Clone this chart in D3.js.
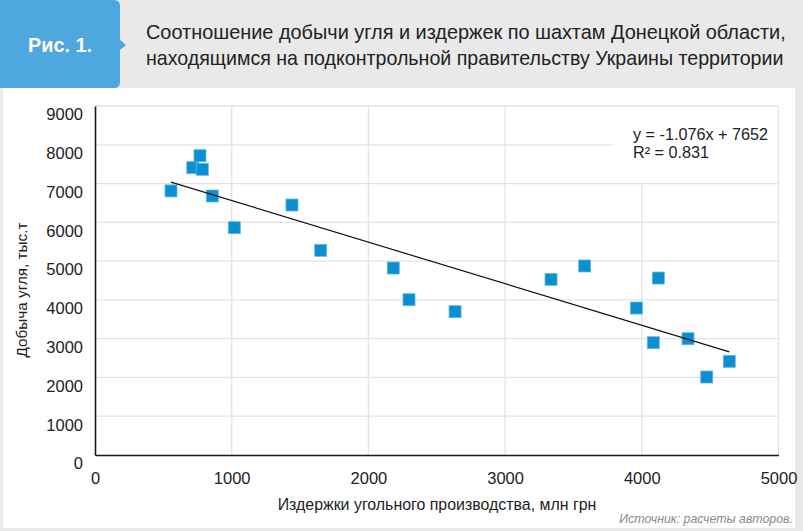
<!DOCTYPE html>
<html><head><meta charset="utf-8">
<script src="https://cdn.jsdelivr.net/npm/d3@7"></script>
<style>
html,body{margin:0;padding:0;background:#e9e9ea;}
svg{display:block;}
</style></head>
<body>
<svg id="chart" width="803" height="531"></svg>
<script>
// ---- data ----
const figureLabel = "Рис. 1.";
const titleLines = [
  "Соотношение добычи угля и издержек по шахтам Донецкой области,",
  "находящимся на подконтрольной правительству Украины территории"
];
const xTitle = "Издержки угольного производства, млн грн";
const yTitle = "Добыча угля, тыс.т";
const sourceText = "Источник: расчеты авторов.";
const equationLines = ["y = -1.076x + 7652", "R² = 0.831"];
const xTicks = [0, 1000, 2000, 3000, 4000, 5000];
const yTicks = [0, 1000, 2000, 3000, 4000, 5000, 6000, 7000, 8000, 9000];
const costs = [556, 715, 768, 785, 858, 1019, 1441, 1651, 2182, 2297, 2634, 3336, 3582, 3960, 4121, 4084, 4338, 4475, 4640];
const output = [6810, 7409, 7718, 7367, 6679, 5862, 6447, 5278, 4822, 4005, 3696, 4530, 4874, 3790, 4564, 2896, 2999, 2011, 2416];

// ---- helpers ----
function fitWidth(sel, target){
  const fs = +sel.attr("font-size");
  const w = sel.node().getComputedTextLength();
  if (w > 0) sel.attr("font-size", (fs*target/w).toFixed(2));
  return sel;
}

// ---- layout ----
const svg = d3.select("#chart");
const W = 803, H = 531;

svg.append("rect").attr("x",0).attr("y",0).attr("width",W).attr("height",H).attr("fill","#e9e9ea");
svg.append("rect").attr("x",3).attr("y",88).attr("width",792).attr("height",440).attr("fill","#ffffff");

// header tab
svg.append("path")
  .attr("d","M0,0 H114 Q120,0 120,6 V40 L126,45 L120,50 V82 Q120,88 114,88 H0 Z")
  .attr("fill","#4ea7de");
svg.append("text").attr("x",60).attr("y",52).attr("text-anchor","middle")
  .attr("font-family","'Liberation Sans Narrow', 'Liberation Sans', sans-serif").attr("font-weight","bold")
  .attr("font-size",21).attr("fill","#ffffff")
  .attr("textLength",64).attr("lengthAdjust","spacingAndGlyphs")
  .text(figureLabel);
titleLines.forEach((t,i)=>{
  const tx = svg.append("text").attr("x",146).attr("y",39 + i*26)
    .attr("font-family","'Liberation Sans', Arial, sans-serif").attr("font-size",19).attr("fill","#222")
    .text(t);
  fitWidth(tx, i===0 ? 640 : 638);
});

const x = d3.scaleLinear().domain([0,5000]).range([95,778.5]);
const y = d3.scaleLinear().domain([0,9000]).range([455,106]);

// gridlines
const grid = svg.append("g").attr("stroke","#e3e3e3").attr("stroke-width",1.3);
yTicks.filter(d=>d>0).forEach(d=>{
  grid.append("line").attr("x1",x(0)).attr("x2",x(5000)).attr("y1",y(d)).attr("y2",y(d));
});
xTicks.filter(d=>d>0).forEach(d=>{
  grid.append("line").attr("x1",x(d)).attr("x2",x(d)).attr("y1",y(0)).attr("y2",y(9000));
});

// equation box (white background covering gridlines)
svg.append("rect").attr("x",612).attr("y",y(9000)+1.5).attr("width",x(5000)-612-1.5).attr("height",y(7000)-y(9000)-3)
  .attr("fill","#ffffff");

// axes
const xAxis = d3.axisBottom(x).tickValues(xTicks).tickSize(0).tickPadding(0).tickFormat(d3.format("d"));
const yAxis = d3.axisLeft(y).tickValues(yTicks).tickSize(0).tickPadding(0).tickFormat(d3.format("d"));
const gx = svg.append("g").attr("transform",`translate(0,${y(0)})`).call(xAxis);
const gy = svg.append("g").attr("transform",`translate(${x(0)},0)`).call(yAxis);
[gx,gy].forEach(g=>{
  g.select(".domain").attr("stroke","#1a1a1a").attr("stroke-width",1.6);
  g.selectAll("text").attr("font-family","'Liberation Sans', Arial, sans-serif").attr("font-size",16.5).attr("fill","#222");
});
gx.selectAll("text").attr("dy",null).attr("y",29);
gy.selectAll("text").attr("dy","0.35em").attr("y",8).attr("x",-12);

// trend line (least squares from the data)
const mx = d3.mean(costs), my = d3.mean(output);
let sxy=0, sxx=0;
costs.forEach((c,i)=>{ sxy += (c-mx)*(output[i]-my); sxx += (c-mx)*(c-mx); });
const slope = sxy/sxx, intercept = my - slope*mx;
const x0 = d3.min(costs), x1 = d3.max(costs);

// points
const pts = costs.map((c,i)=>({c, o: output[i]}));
svg.append("g").selectAll("rect").data(pts).join("rect")
  .attr("x",d=>x(d.c)-6).attr("y",d=>y(d.o)-6).attr("width",12).attr("height",12)
  .attr("fill","#0b8fd0").attr("stroke","#63b8e4").attr("stroke-width",0.8);

svg.append("line")
  .attr("x1",x(x0)).attr("y1",y(slope*x0+intercept))
  .attr("x2",x(x1)).attr("y2",y(slope*x1+intercept))
  .attr("stroke","#111").attr("stroke-width",1.2);

// equation
equationLines.forEach((t,i)=>{
  const tx = svg.append("text").attr("x",633).attr("y",140 + i*18)
    .attr("font-family","'Liberation Sans', Arial, sans-serif").attr("font-size",15.5).attr("fill","#222")
    .text(t);
  fitWidth(tx, i===0 ? 135 : 76);
  if (i===1) tx.attr("font-size", d3.select(tx.node().previousSibling).attr("font-size"));
});

// axis titles
fitWidth(svg.append("text").attr("x",437).attr("y",510).attr("text-anchor","middle")
  .attr("font-family","'Liberation Sans', Arial, sans-serif").attr("font-size",16).attr("fill","#222")
  .text(xTitle), 319);
fitWidth(svg.append("text").attr("transform","translate(27,290) rotate(-90)").attr("text-anchor","middle")
  .attr("font-family","'Liberation Sans', Arial, sans-serif").attr("font-size",16).attr("fill","#222")
  .text(yTitle), 135);

// source
fitWidth(svg.append("text").attr("x",793).attr("y",523).attr("text-anchor","end")
  .attr("font-family","'Liberation Sans', Arial, sans-serif").attr("font-style","italic")
  .attr("font-size",14).attr("fill","#8a8a8a")
  .text(sourceText), 174);
</script>
</body></html>
